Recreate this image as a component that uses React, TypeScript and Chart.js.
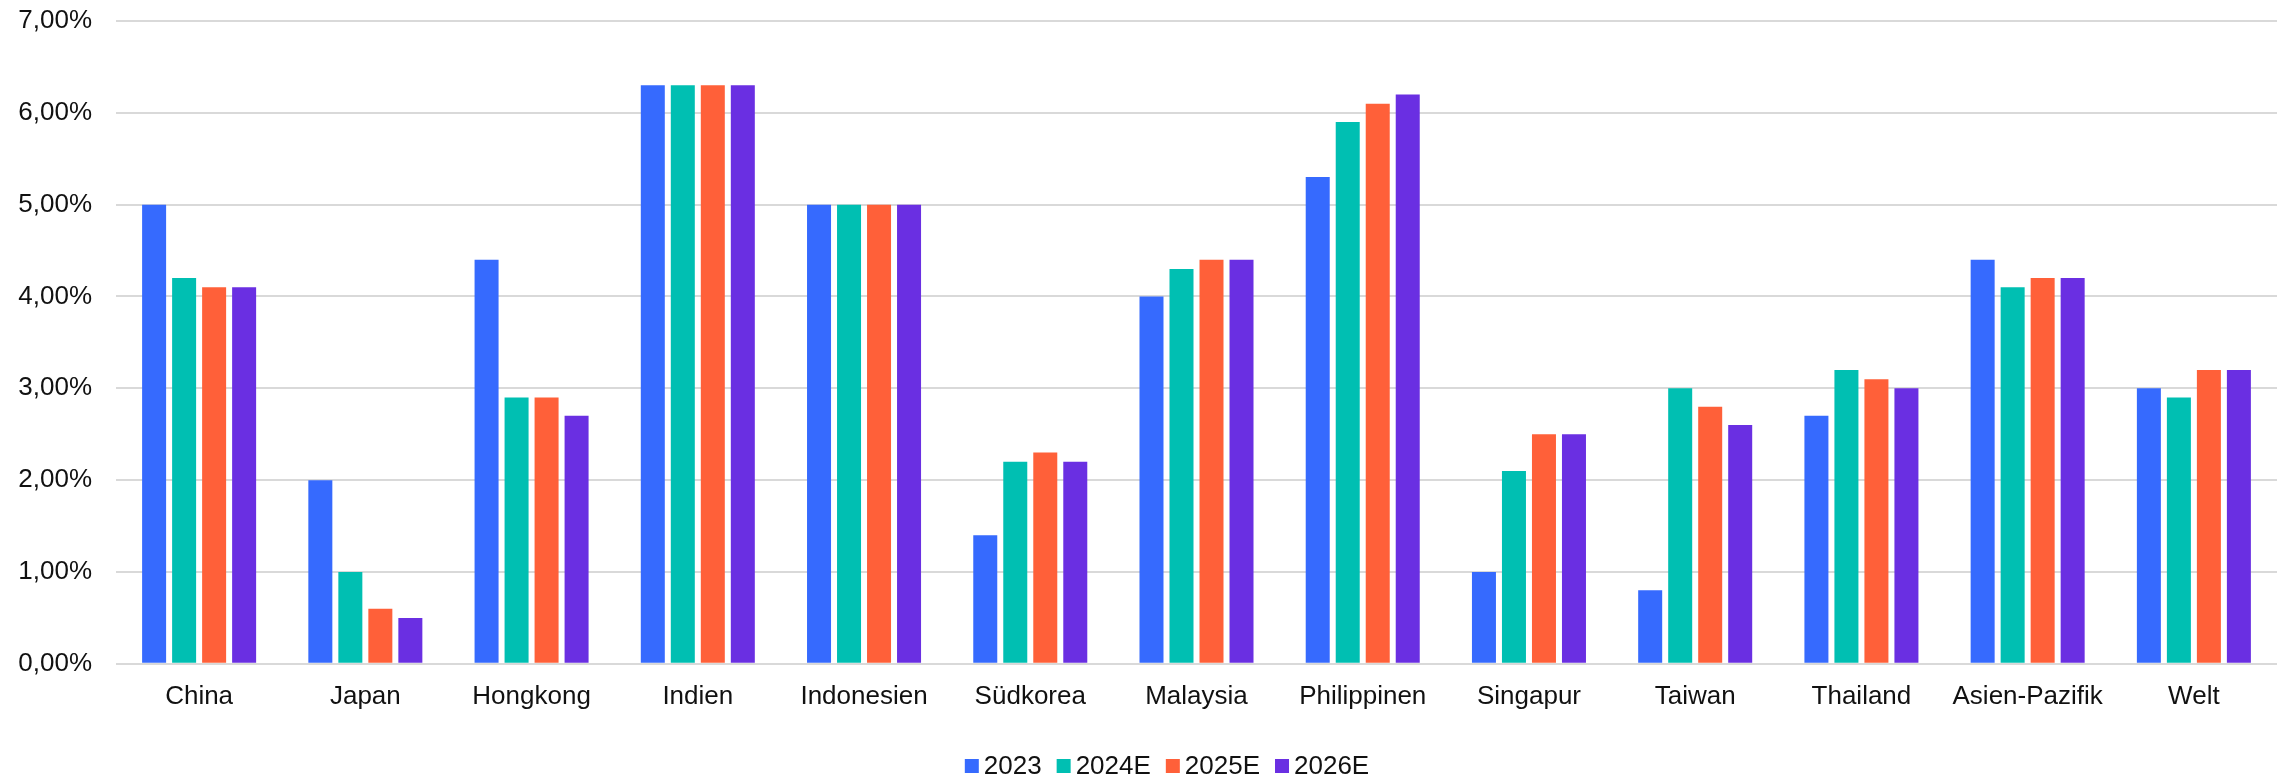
import React, { useEffect, useRef } from 'react';
import { Chart, registerables } from 'chart.js';

Chart.register(...registerables);

// Real GDP growth by country, in percent
const categories = [
  'China',
  'Japan',
  'Hongkong',
  'Indien',
  'Indonesien',
  'Südkorea',
  'Malaysia',
  'Philippinen',
  'Singapur',
  'Taiwan',
  'Thailand',
  'Asien-Pazifik',
  'Welt',
];
const seriesLabels = ['2023', '2024E', '2025E', '2026E'];
const growth2023 = [5.0, 2.0, 4.4, 6.3, 5.0, 1.4, 4.0, 5.3, 1.0, 0.8, 2.7, 4.4, 3.0];
const growth2024E = [4.2, 1.0, 2.9, 6.3, 5.0, 2.2, 4.3, 5.9, 2.1, 3.0, 3.2, 4.1, 2.9];
const growth2025E = [4.1, 0.6, 2.9, 6.3, 5.0, 2.3, 4.4, 6.1, 2.5, 2.8, 3.1, 4.2, 3.2];
const growth2026E = [4.1, 0.5, 2.7, 6.3, 5.0, 2.2, 4.4, 6.2, 2.5, 2.6, 3.0, 4.2, 3.2];
const yMin = 0;
const yMax = 7;
const yStep = 1;

const seriesColors = ['#366AFE', '#00BFB2', '#FF6039', '#6A2FE2'];
const FONT_FAMILY = '"Liberation Sans", Arial, sans-serif';
const FONT_SIZE = 26;
const TEXT_COLOR = '#111111';

const formatPercent = (v: number) => v.toFixed(2).replace('.', ',') + '%';

// Compact legend: small square, tight gap to the text, centred under the chart
const bottomLegend = {
  id: 'bottomLegend',
  afterDraw(chart: any) {
    const ctx = chart.ctx as CanvasRenderingContext2D;
    const box = 14;
    const gap = 5;
    const spacing = 15;
    const centerX = 1167;
    const centerY = 766;
    ctx.save();
    ctx.font = `${FONT_SIZE}px ${FONT_FAMILY}`;
    ctx.textBaseline = 'middle';
    ctx.textAlign = 'left';
    const items = chart.data.datasets.map((ds: any) => ({
      label: ds.label as string,
      color: ds.backgroundColor as string,
      width: ctx.measureText(ds.label).width,
    }));
    const total =
      items.reduce((s: number, it: any) => s + box + gap + it.width, 0) +
      spacing * (items.length - 1);
    let x = centerX - total / 2;
    for (const it of items) {
      ctx.fillStyle = it.color;
      ctx.fillRect(x, centerY - box / 2, box, box);
      ctx.fillStyle = TEXT_COLOR;
      ctx.fillText(it.label, x + box + gap, centerY + 1);
      x += box + gap + it.width + spacing;
    }
    ctx.restore();
  },
};

export default function App() {
  const canvasRef = useRef<HTMLCanvasElement | null>(null);

  useEffect(() => {
    if (!canvasRef.current) return;
    const values = [growth2023, growth2024E, growth2025E, growth2026E];
    const chart = new Chart(canvasRef.current, {
      type: 'bar',
      data: {
        labels: categories,
        datasets: seriesLabels.map((label, i) => ({
          label,
          data: values[i],
          backgroundColor: seriesColors[i],
          borderWidth: 0,
          categoryPercentage: 0.722,
          barPercentage: 0.8,
        })),
      },
      options: {
        responsive: false,
        animation: false,
        devicePixelRatio: 1,
        layout: {
          padding: { left: 18, right: 8, top: 21, bottom: 48 },
        },
        plugins: {
          legend: { display: false },
          tooltip: { enabled: false },
        },
        scales: {
          x: {
            grid: { display: false, drawTicks: false },
            border: { display: false },
            ticks: {
              color: TEXT_COLOR,
              padding: 17,
              maxRotation: 0,
              autoSkip: false,
              font: { family: FONT_FAMILY, size: FONT_SIZE },
            },
          },
          y: {
            min: yMin,
            max: yMax,
            grid: { color: '#D9D9D9', lineWidth: 2, drawTicks: false },
            border: { display: false },
            afterFit: (scale: any) => {
              scale.width = 98;
              scale.paddingTop = 0;
              scale.paddingBottom = 0;
            },
            ticks: {
              stepSize: yStep,
              padding: 24,
              color: TEXT_COLOR,
              font: { family: FONT_FAMILY, size: FONT_SIZE },
              callback: (v: any) => formatPercent(Number(v)),
            },
          },
        },
      },
      plugins: [bottomLegend],
    });
    return () => chart.destroy();
  }, []);

  return (
    <div style={{ position: 'fixed', left: 0, top: 0, width: 2285, height: 777, background: '#ffffff' }}>
      <canvas ref={canvasRef} width={2285} height={777} style={{ display: 'block', width: 2285, height: 777 }} />
    </div>
  );
}
